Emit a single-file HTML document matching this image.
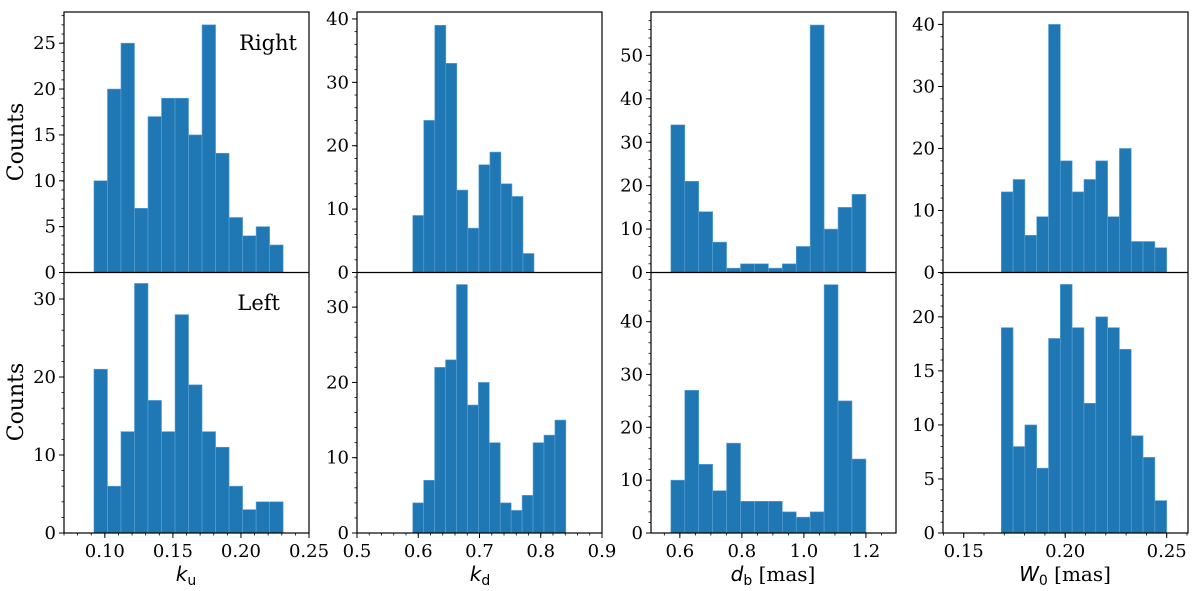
<!DOCTYPE html>
<html><head><meta charset="utf-8"><style>
body{margin:0;background:#fff;}
svg{display:block;font-family:"DejaVu Serif","Liberation Serif",serif;}
</style></head><body>
<svg id="c" width="1200" height="591" xmlns="http://www.w3.org/2000/svg"></svg>
<script>
// Data
const rightKu=[10,20,25,7,17,19,19,15,27,13,6,4,5,3];
const leftKu=[21,6,13,32,17,13,28,19,13,11,6,3,4,4];
const rightKd=[9,24,39,33,13,7,17,19,14,12,3];
const leftKd=[4,7,22,23,33,17,20,12,4,3,5,12,13,15];
const rightDb=[34,21,14,7,1,2,2,1,2,6,57,10,15,18];
const leftDb=[10,27,13,8,17,6,6,6,4,3,4,47,25,14];
const rightW0=[13,15,6,9,40,18,13,15,18,9,20,5,5,4];
const leftW0=[19,8,10,6,18,23,19,12,20,19,17,9,7,3];
const binStarts=[0.092,0.591,0.571,0.1685];
const binEnds=[0.231,0.789,1.2,0.25];
const binEndsLeft=[0.231,0.841,1.2,0.25];
const xTicks=[[0.10,0.15,0.20,0.25],[0.5,0.6,0.7,0.8,0.9],[0.6,0.8,1.0,1.2],[0.15,0.20,0.25]];
const xTickLabels=[["0.10","0.15","0.20","0.25"],["0.5","0.6","0.7","0.8","0.9"],["0.6","0.8","1.0","1.2"],["0.15","0.20","0.25"]];
const yTicksTop=[[0,5,10,15,20,25],[0,10,20,30,40],[0,10,20,30,40,50],[0,10,20,30,40]];
const yTicksBot=[[0,10,20,30],[0,10,20,30],[0,10,20,30,40],[0,5,10,15,20]];

const svg=document.getElementById('c');
const NS='http://www.w3.org/2000/svg';
function mk(tag,attrs,parent){const e=document.createElementNS(NS,tag);for(const k in attrs)e.setAttribute(k,attrs[k]);(parent||svg).appendChild(e);return e;}
const lefts=[64,357,651,943], W=245, TOP=12, MID=272.5, BOT=533;
const xlims=[[0.07,0.25],[0.5,0.9],[0.507,1.297],[0.1398,0.2605]];
const ylimTop=[28.4,41.1,60.0,42.0], ylimBot=[33.4,34.6,49.3,24.1];
const minorX=[0.01,0.02,0.05,0.01];
const minorYTop=[1,2,2,2], minorYBot=[2,2,2,1];
const series=[[rightKu,leftKu],[rightKd,leftKd],[rightDb,leftDb],[rightW0,leftW0]];
const names=['ku','kd','db','w0'];

for(let p=0;p<4;p++){
  const x0=lefts[p],[a,b]=xlims[p];
  const sx=v=>x0+(v-a)/(b-a)*W;
  const rows=[{vals:series[p][0],y0:TOP,y1:MID,ylim:ylimTop[p],ticks:yTicksTop[p],minor:minorYTop[p],end:binEnds[p],tag:'right'},
              {vals:series[p][1],y0:MID,y1:BOT,ylim:ylimBot[p],ticks:yTicksBot[p],minor:minorYBot[p],end:binEndsLeft[p],tag:'left'}];
  rows.forEach(r=>{
    const sy=v=>r.y1-v/r.ylim*(r.y1-r.y0);
    const g=mk('g',{});
    
    
    const n=r.vals.length, bw=(r.end-binStarts[p])/n;
    r.vals.forEach((v,i)=>{
      const xl=sx(binStarts[p]+i*bw), xr=sx(binStarts[p]+(i+1)*bw);
      const rect=mk('rect',{x:xl,y:sy(v),width:xr-xl,height:r.y1-sy(v),fill:'#1f77b4',stroke:'#5fa2d8','stroke-width':0.6},g);
      
      
    });
    r.ticks.forEach(t=>{
      const y=sy(t);
      mk('line',{x1:x0-5,x2:x0,y1:y,y2:y,stroke:'#000','stroke-width':1},g);
      const tx=mk('text',{x:x0-8,y:y+6,'text-anchor':'end','font-size':18},g);tx.textContent=t;
      
      
    });
    for(let m=r.minor;m<r.ylim;m+=r.minor){const y=sy(m);mk('line',{x1:x0-2.5,x2:x0,y1:y,y2:y,stroke:'#000','stroke-width':0.8},g);}
  });
  mk('rect',{x:x0,y:TOP,width:W,height:BOT-TOP,fill:'none',stroke:'#000','stroke-width':1.2});
  mk('line',{x1:x0,x2:x0+W,y1:MID,y2:MID,stroke:'#000','stroke-width':1.2});
  xTicks[p].forEach((t,i)=>{
    const x=sx(t);
    mk('line',{x1:x,x2:x,y1:BOT,y2:BOT+5,stroke:'#000','stroke-width':1});
    const tx=mk('text',{x:x,y:BOT+24,'text-anchor':'middle','font-size':18});tx.textContent=xTickLabels[p][i];
    
    
  });
  const st=Math.ceil(a/minorX[p]-1e-6);
  for(let k=st;k*minorX[p]<=b+1e-9;k++){const x=sx(k*minorX[p]);mk('line',{x1:x,x2:x,y1:BOT,y2:BOT+2.5,stroke:'#000','stroke-width':0.8});}
}
const xl=[[186,'k','u',''],[480,'k','d',''],[773,'d','b',' [mas]'],[1065,'W','0',' [mas]']];
xl.forEach((l,i)=>{
  const t=mk('text',{x:l[0],y:581,'text-anchor':'middle','font-size':20});
  
  
  const s1=mk('tspan',{'font-family':'DejaVu Sans, sans-serif','font-style':'italic'},t);s1.textContent=l[1];
  const s2=mk('tspan',{'font-family':'DejaVu Sans, sans-serif','font-size':14,dy:4},t);s2.textContent=l[2];
  if(l[3]){const s3=mk('tspan',{dy:-4},t);s3.textContent=l[3];}
});
[[142,'y-axis-title-top'],[402,'y-axis-title-bottom']].forEach(c=>{
  const t=mk('text',{x:0,y:0,'text-anchor':'middle','font-size':22,transform:`translate(23,${c[0]}) rotate(-90)`});
  t.textContent='Counts';
  
  
});
[[297,50,'Right','label-right'],[280,310,'Left','label-left']].forEach(c=>{
  const t=mk('text',{x:c[0],y:c[1],'text-anchor':'end','font-size':21});
  t.textContent=c[2];
  
  
});
</script>
</body></html>
